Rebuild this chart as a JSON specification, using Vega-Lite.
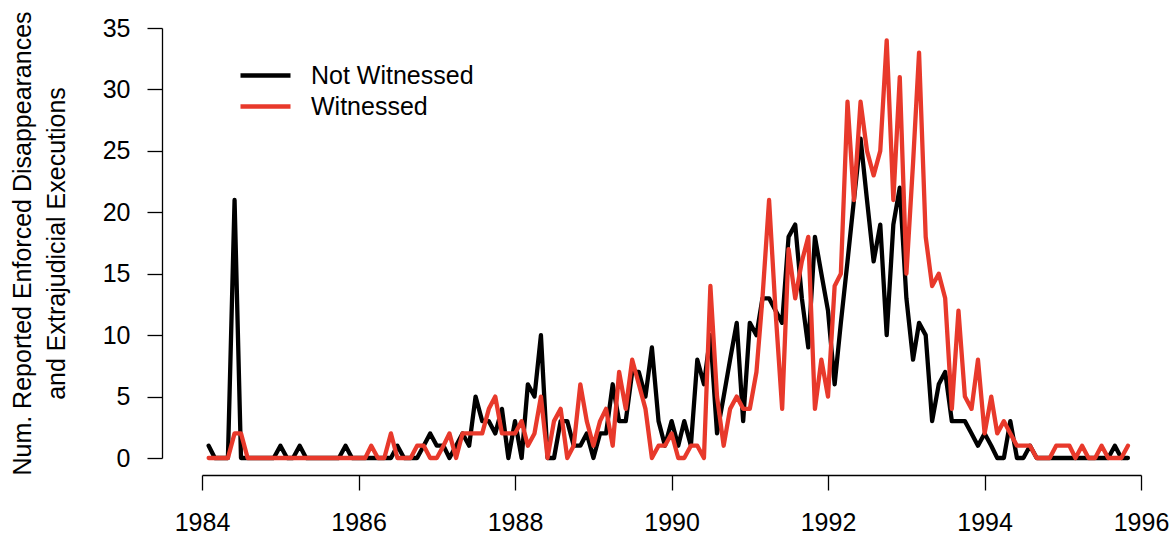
{
  "$schema": "https://vega.github.io/schema/vega-lite/v6.json",
  "width": 939,
  "height": 430,
  "autosize": {"type": "none"},
  "padding": {"left": 202, "top": 28, "right": 32, "bottom": 78},
  "background": "white",
  "config": {
    "view": {"stroke": null},
    "font": "Liberation Sans",
    "axis": {
      "domainColor": "black", "tickColor": "black", "labelColor": "black", "titleColor": "black",
      "domainWidth": 1.3, "tickWidth": 1.3, "tickSize": 15, "grid": false,
      "labelFont": "Liberation Sans", "labelFontSize": 25,
      "titleFont": "Liberation Sans", "titleFontSize": 25, "titleFontWeight": "normal"
    },
    "legend": {
      "orient": "none", "legendX": 36, "legendY": 32, "padding": 0,
      "symbolType": "stroke", "symbolSize": 2500, "symbolStrokeWidth": 4.5,
      "labelFont": "Liberation Sans", "labelFontSize": 25, "labelColor": "black", "labelLimit": 0,
      "labelOffset": 18, "clipHeight": 31, "rowPadding": 0
    }
  },
  "datasets": {
    "nw": [
      {"d":"1984-02-01","v":1},{"d":"1984-03-01","v":0},{"d":"1984-04-01","v":0},{"d":"1984-05-01","v":0},{"d":"1984-06-01","v":21},{"d":"1984-07-01","v":0},{"d":"1984-08-01","v":0},{"d":"1984-09-01","v":0},{"d":"1984-10-01","v":0},{"d":"1984-11-01","v":0},{"d":"1984-12-01","v":0},
      {"d":"1985-01-01","v":1},{"d":"1985-02-01","v":0},{"d":"1985-03-01","v":0},{"d":"1985-04-01","v":1},{"d":"1985-05-01","v":0},{"d":"1985-06-01","v":0},{"d":"1985-07-01","v":0},{"d":"1985-08-01","v":0},{"d":"1985-09-01","v":0},{"d":"1985-10-01","v":0},{"d":"1985-11-01","v":1},{"d":"1985-12-01","v":0},
      {"d":"1986-01-01","v":0},{"d":"1986-02-01","v":0},{"d":"1986-03-01","v":0},{"d":"1986-04-01","v":0},{"d":"1986-05-01","v":0},{"d":"1986-06-01","v":0},{"d":"1986-07-01","v":1},{"d":"1986-08-01","v":0},{"d":"1986-09-01","v":0},{"d":"1986-10-01","v":0},{"d":"1986-11-01","v":1},{"d":"1986-12-01","v":2},
      {"d":"1987-01-01","v":1},{"d":"1987-02-01","v":1},{"d":"1987-03-01","v":0},{"d":"1987-04-01","v":1},{"d":"1987-05-01","v":2},{"d":"1987-06-01","v":1},{"d":"1987-07-01","v":5},{"d":"1987-08-01","v":3},{"d":"1987-09-01","v":3},{"d":"1987-10-01","v":2},{"d":"1987-11-01","v":4},{"d":"1987-12-01","v":0},
      {"d":"1988-01-01","v":3},{"d":"1988-02-01","v":0},{"d":"1988-03-01","v":6},{"d":"1988-04-01","v":5},{"d":"1988-05-01","v":10},{"d":"1988-06-01","v":0},{"d":"1988-07-01","v":0},{"d":"1988-08-01","v":3},{"d":"1988-09-01","v":3},{"d":"1988-10-01","v":1},{"d":"1988-11-01","v":1},{"d":"1988-12-01","v":2},
      {"d":"1989-01-01","v":0},{"d":"1989-02-01","v":2},{"d":"1989-03-01","v":2},{"d":"1989-04-01","v":6},{"d":"1989-05-01","v":3},{"d":"1989-06-01","v":3},{"d":"1989-07-01","v":7},{"d":"1989-08-01","v":7},{"d":"1989-09-01","v":5},{"d":"1989-10-01","v":9},{"d":"1989-11-01","v":3},{"d":"1989-12-01","v":1},
      {"d":"1990-01-01","v":3},{"d":"1990-02-01","v":1},{"d":"1990-03-01","v":3},{"d":"1990-04-01","v":1},{"d":"1990-05-01","v":8},{"d":"1990-06-01","v":6},{"d":"1990-07-01","v":10},{"d":"1990-08-01","v":2},{"d":"1990-09-01","v":5},{"d":"1990-10-01","v":8},{"d":"1990-11-01","v":11},{"d":"1990-12-01","v":3},
      {"d":"1991-01-01","v":11},{"d":"1991-02-01","v":10},{"d":"1991-03-01","v":13},{"d":"1991-04-01","v":13},{"d":"1991-05-01","v":12},{"d":"1991-06-01","v":11},{"d":"1991-07-01","v":18},{"d":"1991-08-01","v":19},{"d":"1991-09-01","v":13},{"d":"1991-10-01","v":9},{"d":"1991-11-01","v":18},{"d":"1991-12-01","v":15},
      {"d":"1992-01-01","v":12},{"d":"1992-02-01","v":6},{"d":"1992-03-01","v":11},{"d":"1992-04-01","v":16},{"d":"1992-05-01","v":21},{"d":"1992-06-01","v":26},{"d":"1992-07-01","v":21},{"d":"1992-08-01","v":16},{"d":"1992-09-01","v":19},{"d":"1992-10-01","v":10},{"d":"1992-11-01","v":19},{"d":"1992-12-01","v":22},
      {"d":"1993-01-01","v":13},{"d":"1993-02-01","v":8},{"d":"1993-03-01","v":11},{"d":"1993-04-01","v":10},{"d":"1993-05-01","v":3},{"d":"1993-06-01","v":6},{"d":"1993-07-01","v":7},{"d":"1993-08-01","v":3},{"d":"1993-09-01","v":3},{"d":"1993-10-01","v":3},{"d":"1993-11-01","v":2},{"d":"1993-12-01","v":1},
      {"d":"1994-01-01","v":2},{"d":"1994-02-01","v":1},{"d":"1994-03-01","v":0},{"d":"1994-04-01","v":0},{"d":"1994-05-01","v":3},{"d":"1994-06-01","v":0},{"d":"1994-07-01","v":0},{"d":"1994-08-01","v":1},{"d":"1994-09-01","v":0},{"d":"1994-10-01","v":0},{"d":"1994-11-01","v":0},{"d":"1994-12-01","v":0},
      {"d":"1995-01-01","v":0},{"d":"1995-02-01","v":0},{"d":"1995-03-01","v":0},{"d":"1995-04-01","v":0},{"d":"1995-05-01","v":0},{"d":"1995-06-01","v":0},{"d":"1995-07-01","v":0},{"d":"1995-08-01","v":0},{"d":"1995-09-01","v":1},{"d":"1995-10-01","v":0},{"d":"1995-11-01","v":0}
    ],
    "w": [
      {"d":"1984-02-01","v":0},{"d":"1984-03-01","v":0},{"d":"1984-04-01","v":0},{"d":"1984-05-01","v":0},{"d":"1984-06-01","v":2},{"d":"1984-07-01","v":2},{"d":"1984-08-01","v":0},{"d":"1984-09-01","v":0},{"d":"1984-10-01","v":0},{"d":"1984-11-01","v":0},{"d":"1984-12-01","v":0},
      {"d":"1985-01-01","v":0},{"d":"1985-02-01","v":0},{"d":"1985-03-01","v":0},{"d":"1985-04-01","v":0},{"d":"1985-05-01","v":0},{"d":"1985-06-01","v":0},{"d":"1985-07-01","v":0},{"d":"1985-08-01","v":0},{"d":"1985-09-01","v":0},{"d":"1985-10-01","v":0},{"d":"1985-11-01","v":0},{"d":"1985-12-01","v":0},
      {"d":"1986-01-01","v":0},{"d":"1986-02-01","v":0},{"d":"1986-03-01","v":1},{"d":"1986-04-01","v":0},{"d":"1986-05-01","v":0},{"d":"1986-06-01","v":2},{"d":"1986-07-01","v":0},{"d":"1986-08-01","v":0},{"d":"1986-09-01","v":0},{"d":"1986-10-01","v":1},{"d":"1986-11-01","v":1},{"d":"1986-12-01","v":0},
      {"d":"1987-01-01","v":0},{"d":"1987-02-01","v":1},{"d":"1987-03-01","v":2},{"d":"1987-04-01","v":0},{"d":"1987-05-01","v":2},{"d":"1987-06-01","v":2},{"d":"1987-07-01","v":2},{"d":"1987-08-01","v":2},{"d":"1987-09-01","v":4},{"d":"1987-10-01","v":5},{"d":"1987-11-01","v":2},{"d":"1987-12-01","v":2},
      {"d":"1988-01-01","v":2},{"d":"1988-02-01","v":3},{"d":"1988-03-01","v":1},{"d":"1988-04-01","v":2},{"d":"1988-05-01","v":5},{"d":"1988-06-01","v":0},{"d":"1988-07-01","v":3},{"d":"1988-08-01","v":4},{"d":"1988-09-01","v":0},{"d":"1988-10-01","v":1},{"d":"1988-11-01","v":6},{"d":"1988-12-01","v":3},
      {"d":"1989-01-01","v":1},{"d":"1989-02-01","v":3},{"d":"1989-03-01","v":4},{"d":"1989-04-01","v":1},{"d":"1989-05-01","v":7},{"d":"1989-06-01","v":4},{"d":"1989-07-01","v":8},{"d":"1989-08-01","v":6},{"d":"1989-09-01","v":4},{"d":"1989-10-01","v":0},{"d":"1989-11-01","v":1},{"d":"1989-12-01","v":1},
      {"d":"1990-01-01","v":2},{"d":"1990-02-01","v":0},{"d":"1990-03-01","v":0},{"d":"1990-04-01","v":1},{"d":"1990-05-01","v":1},{"d":"1990-06-01","v":0},{"d":"1990-07-01","v":14},{"d":"1990-08-01","v":5},{"d":"1990-09-01","v":1},{"d":"1990-10-01","v":4},{"d":"1990-11-01","v":5},{"d":"1990-12-01","v":4},
      {"d":"1991-01-01","v":4},{"d":"1991-02-01","v":7},{"d":"1991-03-01","v":13},{"d":"1991-04-01","v":21},{"d":"1991-05-01","v":12},{"d":"1991-06-01","v":4},{"d":"1991-07-01","v":17},{"d":"1991-08-01","v":13},{"d":"1991-09-01","v":16},{"d":"1991-10-01","v":18},{"d":"1991-11-01","v":4},{"d":"1991-12-01","v":8},
      {"d":"1992-01-01","v":5},{"d":"1992-02-01","v":14},{"d":"1992-03-01","v":15},{"d":"1992-04-01","v":29},{"d":"1992-05-01","v":21},{"d":"1992-06-01","v":29},{"d":"1992-07-01","v":25},{"d":"1992-08-01","v":23},{"d":"1992-09-01","v":25},{"d":"1992-10-01","v":34},{"d":"1992-11-01","v":21},{"d":"1992-12-01","v":31},
      {"d":"1993-01-01","v":15},{"d":"1993-02-01","v":24},{"d":"1993-03-01","v":33},{"d":"1993-04-01","v":18},{"d":"1993-05-01","v":14},{"d":"1993-06-01","v":15},{"d":"1993-07-01","v":13},{"d":"1993-08-01","v":4},{"d":"1993-09-01","v":12},{"d":"1993-10-01","v":5},{"d":"1993-11-01","v":4},{"d":"1993-12-01","v":8},
      {"d":"1994-01-01","v":2},{"d":"1994-02-01","v":5},{"d":"1994-03-01","v":2},{"d":"1994-04-01","v":3},{"d":"1994-05-01","v":2},{"d":"1994-06-01","v":1},{"d":"1994-07-01","v":1},{"d":"1994-08-01","v":1},{"d":"1994-09-01","v":0},{"d":"1994-10-01","v":0},{"d":"1994-11-01","v":0},{"d":"1994-12-01","v":1},
      {"d":"1995-01-01","v":1},{"d":"1995-02-01","v":1},{"d":"1995-03-01","v":0},{"d":"1995-04-01","v":1},{"d":"1995-05-01","v":0},{"d":"1995-06-01","v":0},{"d":"1995-07-01","v":1},{"d":"1995-08-01","v":0},{"d":"1995-09-01","v":0},{"d":"1995-10-01","v":0},{"d":"1995-11-01","v":1}
    ]
  },
  "encoding": {
    "x": {
      "field": "d", "type": "temporal",
      "scale": {"type": "utc", "domain": [{"year": 1984, "month": 1, "date": 1, "utc": true}, {"year": 1996, "month": 1, "date": 1, "utc": true}]},
      "axis": {"title": null, "format": "%Y", "formatType": "utc", "tickCount": {"interval": "year", "step": 2}, "offset": 17, "labelPadding": 20, "labelFlush": false, "labelOverlap": false, "labelBound": false}
    },
    "y": {
      "field": "v", "type": "quantitative",
      "scale": {"domain": [0, 35], "nice": false, "zero": false},
      "axis": {"title": ["Num. Reported Enforced Disappearances", "and Extrajudicial Executions"], "values": [0, 5, 10, 15, 20, 25, 30, 35], "offset": 40, "labelPadding": 17, "titlePadding": 33, "titleLineHeight": 34}
    }
  },
  "layer": [
    {
      "data": {"name": "nw"},
      "mark": {"type": "line", "strokeWidth": 4.3, "strokeJoin": "round", "strokeCap": "round"},
      "encoding": {
        "color": {"datum": "Not Witnessed", "type": "nominal", "scale": {"domain": ["Not Witnessed", "Witnessed"], "range": ["#000000", "#e8392b"]}, "legend": {"title": null}}
      }
    },
    {
      "data": {"name": "w"},
      "mark": {"type": "line", "strokeWidth": 4.3, "strokeJoin": "round", "strokeCap": "round"},
      "encoding": {
        "color": {"datum": "Witnessed", "type": "nominal"}
      }
    }
  ]
}
